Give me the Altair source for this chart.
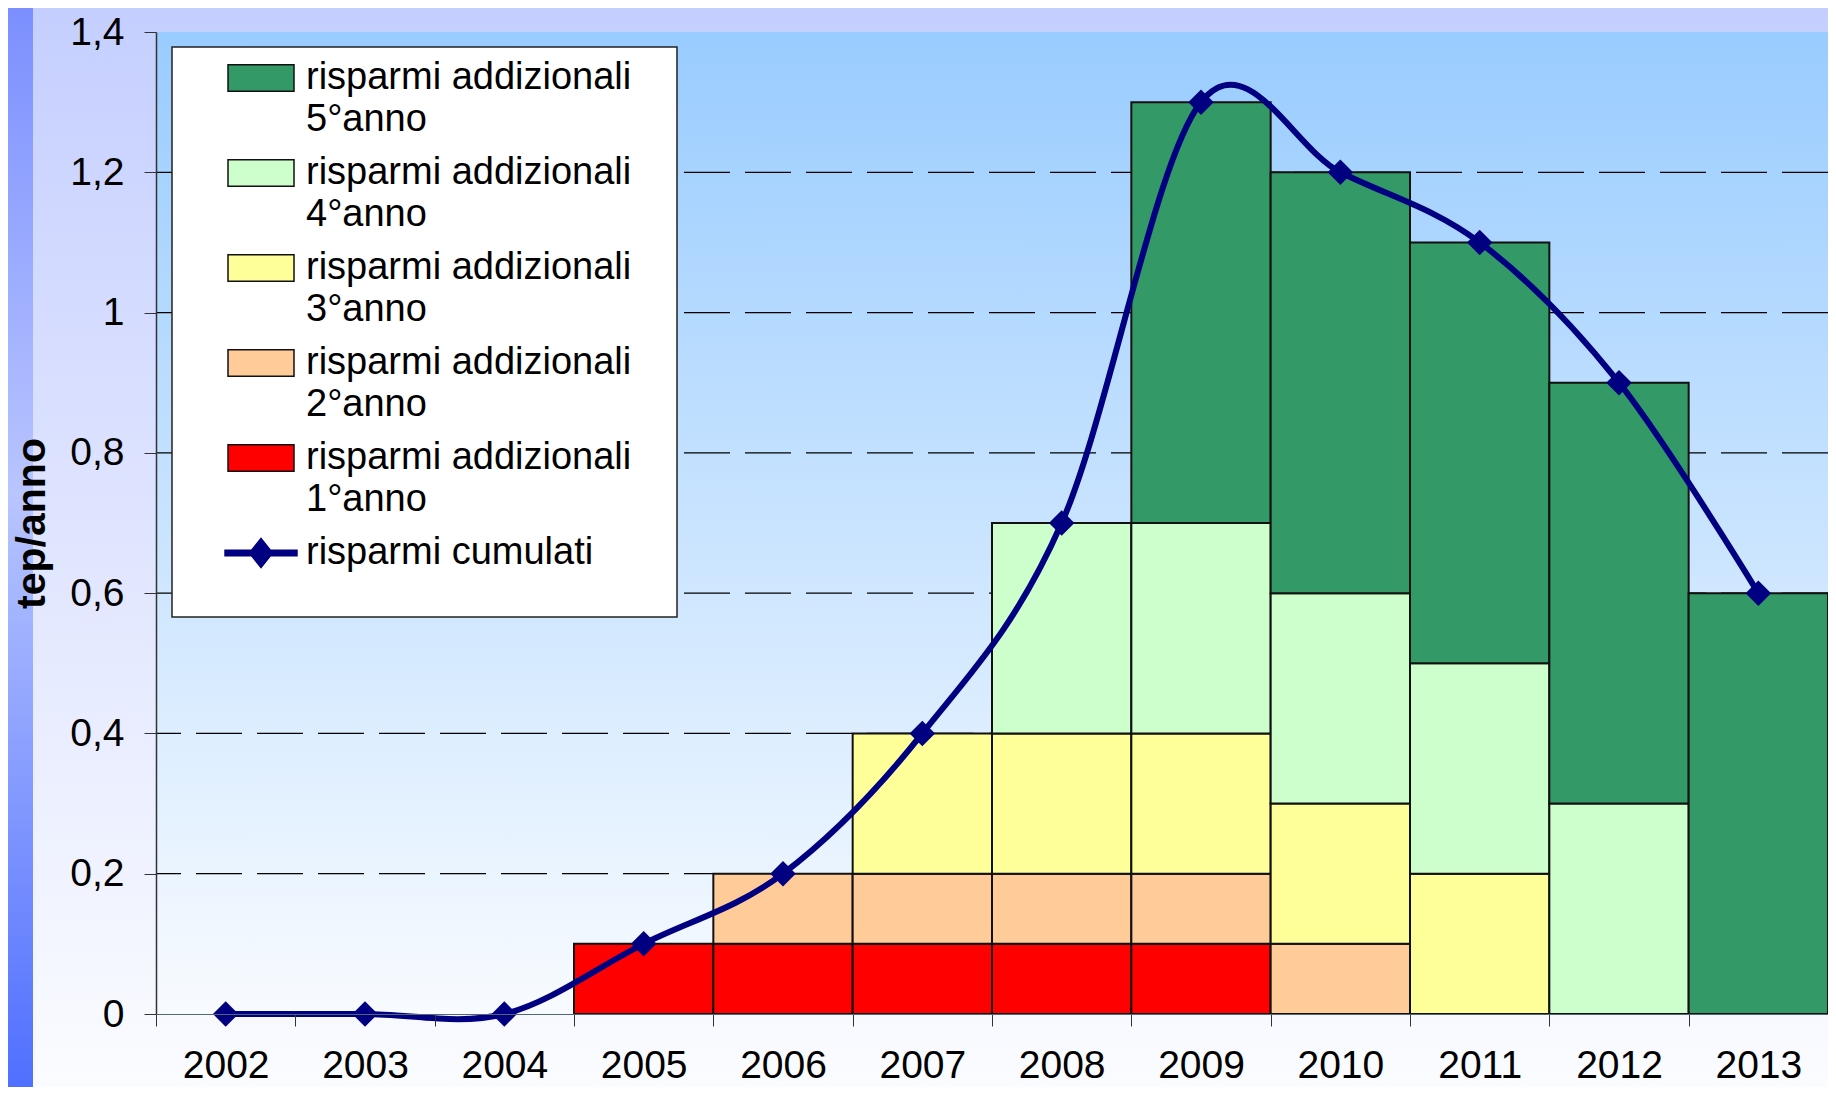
import altair as alt
import pandas as pd

# ---------------- data ----------------
years = ["2002", "2003", "2004", "2005", "2006", "2007",
         "2008", "2009", "2010", "2011", "2012", "2013"]

series_names = [
    "risparmi addizionali 5°anno",
    "risparmi addizionali 4°anno",
    "risparmi addizionali 3°anno",
    "risparmi addizionali 2°anno",
    "risparmi addizionali 1°anno",
]
line_name = "risparmi cumulati"

anno1 = [0, 0, 0, 0.1, 0.1, 0.1, 0.1, 0.1, 0, 0, 0, 0]
anno2 = [0, 0, 0, 0, 0.1, 0.1, 0.1, 0.1, 0.1, 0, 0, 0]
anno3 = [0, 0, 0, 0, 0, 0.2, 0.2, 0.2, 0.2, 0.2, 0, 0]
anno4 = [0, 0, 0, 0, 0, 0, 0.3, 0.3, 0.3, 0.3, 0.3, 0]
anno5 = [0, 0, 0, 0, 0, 0, 0, 0.6, 0.6, 0.6, 0.6, 0.6]
cumulati = [0, 0, 0, 0.1, 0.2, 0.4, 0.7, 1.3, 1.2, 1.1, 0.9, 0.6]

y_ticks = [0, 0.2, 0.4, 0.6, 0.8, 1, 1.2, 1.4]
grid_values = [0.2, 0.4, 0.6, 0.8, 1, 1.2]

colors = ["#339966", "#CCFFCC", "#FFFF99", "#FFCC99", "#FF0000", "#000080"]

# ---------------- tables ----------------
rows = []
for order, (name, vals) in enumerate(
        zip(reversed(series_names), [anno1, anno2, anno3, anno4, anno5]), start=1):
    for yr, v in zip(years, vals):
        if v > 0:
            rows.append({"anno": yr, "serie": name, "valore": v, "ordine": order})
bars_df = pd.DataFrame(rows)
line_df = pd.DataFrame({"anno": years, "cumulati": cumulati})
grid_df = pd.DataFrame({"v": grid_values})

# canvas = 1820 x 1079 so that the page (8px margins) fits 1836 x 1095 exactly
W, H = 1672, 982
PAD = {"left": 148, "top": 24, "right": 0, "bottom": 73}
FONT = "Liberation Sans"
LH = 42  # legend label line height

y_scale = alt.Scale(domain=[0, 1.4], nice=False, zero=True)
x_scale = alt.Scale(domain=years, paddingInner=0, paddingOuter=0)

y_axis = alt.Axis(
    title="tep/anno", titleFont=FONT, titleFontSize=41, titleFontWeight="bold",
    titleColor="black", titlePadding=16,
    values=y_ticks, labelExpr="replace(format(datum.value, '~g'), '.', ',')",
    labelFont=FONT, labelFontSize=39, labelColor="black", labelPadding=20,
    tickSize=12, tickColor="#333", tickWidth=1, domainColor="#333", domainWidth=1.5,
    grid=False, zindex=1,
)
x_axis = alt.Axis(
    title=None, labelFont=FONT, labelFontSize=39, labelColor="black",
    labelPadding=20, labelAngle=0, tickBand="extent", tickSize=12,
    tickColor="#333", tickWidth=1, domainColor="#556677", domainWidth=1,
    grid=False, zindex=1,
)

rect_path = "M-1,-0.4H1V0.4H-1Z"
line_path = ("M-1.09,-0.08H-0.29L0,-0.44L0.29,-0.08H1.09V0.08H0.29L0,0.44"
             "L-0.29,0.08H-1.09Z")

legend = alt.Legend(
    title=None, orient="none", legendX=71, legendY=12, direction="vertical",
    padding=0,
    symbolType=alt.ExprRef(expr=f"datum.value == '{line_name}' ? '{line_path}' : '{rect_path}'"),
    symbolSize=4356, symbolStrokeWidth=1.5,
    symbolStrokeColor=alt.ExprRef(expr=f"datum.value == '{line_name}' ? '#000080' : '#111'"),
    labelFont=FONT, labelFontSize=38, labelColor="black", labelLimit=0, labelOffset=11,
    labelExpr=("indexof(datum.label, 'addizionali') >= 0 ? "
               "['risparmi addizionali', replace(datum.label, 'risparmi addizionali ', '')] : "
               "datum.label"),
    rowPadding=0,
)

# ---------------- decorative backgrounds ----------------
one = alt.Data(values=[{}])
outer_grad = alt.LinearGradient(
    gradient="linear", x1=0, x2=0, y1=0, y2=1,
    stops=[alt.GradientStop(color="#C5CFFF", offset=0),
           alt.GradientStop(color="#FBFCFF", offset=1)])
plot_grad = alt.LinearGradient(
    gradient="linear", x1=0, x2=0, y1=0, y2=1,
    stops=[alt.GradientStop(color="#99CCFF", offset=0),
           alt.GradientStop(color="#F8FBFF", offset=1)])
strip_grad = alt.LinearGradient(
    gradient="linear", x1=0, x2=0, y1=0, y2=1,
    stops=[alt.GradientStop(color="#7B8FFF", offset=0),
           alt.GradientStop(color="#B8C5FF", offset=0.45),
           alt.GradientStop(color="#4F6FFF", offset=1)])

bg_outer = alt.Chart(one).mark_rect(fill=outer_grad).encode(
    x=alt.value(-PAD["left"]), x2=alt.value(W),
    y=alt.value(-PAD["top"]), y2=alt.value(H + PAD["bottom"]))
bg_strip = alt.Chart(one).mark_rect(fill=strip_grad).encode(
    x=alt.value(-PAD["left"]), x2=alt.value(-PAD["left"] + 25),
    y=alt.value(-PAD["top"]), y2=alt.value(H + PAD["bottom"]))
bg_plot = alt.Chart(one).mark_rect(fill=plot_grad).encode(
    x=alt.value(0), x2=alt.value(W), y=alt.value(0), y2=alt.value(H))
legend_box = alt.Chart(one).mark_rect(
    fill="white", stroke="#222", strokeWidth=1.5).encode(
    x=alt.value(16), x2=alt.value(521), y=alt.value(15), y2=alt.value(585))

# ---------------- chart layers ----------------
grid = alt.Chart(grid_df).mark_rule(
    color="black", strokeWidth=1.2, strokeDash=[46, 15]).encode(
    y=alt.Y("v:Q", scale=y_scale, axis=y_axis))

bars = alt.Chart(bars_df).mark_bar(stroke="#111", strokeWidth=2, opacity=1).encode(
    x=alt.X("anno:N", scale=x_scale, axis=x_axis, sort=years),
    y=alt.Y("valore:Q", stack="zero", scale=y_scale, axis=y_axis),
    color=alt.Color("serie:N",
                    scale=alt.Scale(domain=series_names + [line_name], range=colors),
                    legend=legend),
    order=alt.Order("ordine:Q", sort="ascending"),
)

line = alt.Chart(line_df).mark_line(
    interpolate="cardinal", color="#000080", strokeWidth=6).encode(
    x=alt.X("anno:N", scale=x_scale, axis=x_axis, sort=years),
    y=alt.Y("cumulati:Q", scale=y_scale, axis=y_axis))

points = alt.Chart(line_df).mark_point(
    shape="diamond", filled=True, size=650, color="#000080", opacity=1).encode(
    x=alt.X("anno:N", scale=x_scale, axis=x_axis, sort=years),
    y=alt.Y("cumulati:Q", scale=y_scale, axis=y_axis))

chart = alt.layer(bg_outer, bg_strip, bg_plot, grid, legend_box, bars, line, points).properties(
    width=W, height=H,
    autosize=alt.AutoSizeParams(type="none"),
    padding=PAD,
).configure(style={"guide-label": {"lineHeight": LH}}).configure_view(stroke=None)

chart.save("out.html", embed_options={"renderer": "svg", "actions": False})
